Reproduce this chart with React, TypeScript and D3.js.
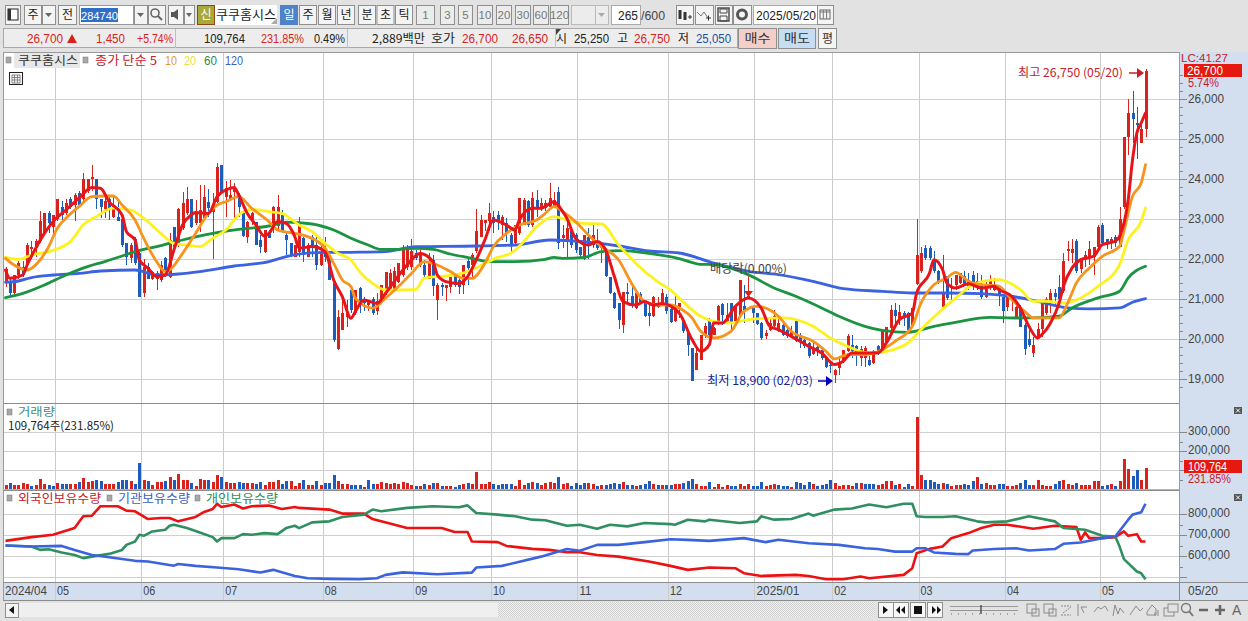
import React from "react";
import * as d3 from "d3";

// ---------- OHLC (open, high, low, close) ----------
const candles2024AprMay = [
[21400,21800,21300,21750],[21450,21500,21100,21150],[21150,21600,21100,21600],[21600,21950,21500,21900],[21800,21950,21550,21600],
[21850,22400,21800,22350],[22250,22450,22000,22300],[22300,22500,22050,22450],[22450,23200,22400,22950],[22650,23150,22600,23150],
[23150,23200,22650,22900],[22800,23100,22550,23100],[23000,23500,22950,23500],[23300,23450,22950,23100],[23150,23500,23100,23400],
[23500,23550,23250,23300],[23350,23650,22950,23600],[23650,23700,23300,23350],[23500,24150,23450,24000],[23700,24000,23650,24000],
[24000,24350,23700,24050],[24000,24000,23250,23500],[23500,23500,23020,23300],[23250,23600,23020,23450],[23500,23550,22980,23250],
[23050,23550,23020,23330],[23050,23500,22950,22950],[23000,23000,22300,22350],[22400,22400,21850,22050],[22020,22400,21900,22350],
[22500,22550,21850,21900],[22150,22200,21050,21050],
];
const candles2024JunJul = [
[21150,22000,21050,21800],[21800,21900,21500,21500],[21500,21700,21475,21685],[21500,21700,21225,21640],[21475,21950,21435,21850],
[22020,22060,21560,21685],[21560,22650,21520,22475],[22800,22810,22270,22310],[22350,23270,22310,23240],[22770,23680,22725,23390],
[23140,23810,23100,23490],[23490,23490,22770,22800],[22900,23480,22850,23140],[22890,23850,22685,23225],[23020,23850,22975,23560],
[23430,23740,23060,23270],[23185,23640,21995,23350],[23430,24390,23390,24290],[24350,24350,23640,23680],[23560,23940,23060,23770],
[23490,23975,23475,23600],[23680,23890,23020,23790],[23600,23640,23060,23290],[23140,23140,22540,22580],[22540,22950,22390,22935],
[22960,23185,22850,23140],[22935,22935,22350,22350],[22475,22600,22140,22300],[22185,22725,22160,22725],[22640,22725,22520,22520],
[22770,23325,22640,23310],[22825,23600,22725,23310],[23100,23225,22640,22685],[22600,22640,22100,22475],[22390,22410,22060,22080],
[22060,22350,22040,22350],[22185,23060,22060,22935],[22520,22560,21935,22100],[22060,22390,22040,22350],[22560,22600,22060,22270],
[22350,22560,21725,21850],[21850,22390,21830,22185],
];
const candles2024AugSep = [
[22225,22560,21935,22060],[22100,22140,21475,21475],[21390,21390,19935,19975],[19745,20725,19725,20560],[20225,20975,20225,20640],
[20560,20975,20300,20640],[21225,21250,20650,20725],[20650,21225,20600,21225],[21275,21310,20650,20950],[21000,21060,20700,20890],
[20850,20975,20700,20975],[21000,21060,20600,20650],[20700,21140,20600,20950],[20950,21350,20900,21350],[21140,21685,21100,21685],
[21200,21750,21200,21650],[21250,21800,21225,21700],[21425,21900,21400,21900],[21600,22350,21550,22225],[21800,22350,21725,22275],
[21800,22500,21725,22200],[22150,22225,21975,22025],[21850,22225,21800,22150],[21850,21975,21500,21600],[21500,22150,21500,21950],
[21975,22100,21075,21325],[20975,21400,20475,21350],[21350,21400,21075,21300],[21275,21350,20950,21350],[21310,21575,21140,21575],
[21575,21640,21310,21350],[21475,21520,21125,21310],[21350,21850,21125,21850],[21950,22025,21350,21775],[21850,22140,21560,22100],
[22200,23240,22140,22690],[22560,23100,22560,22975],[22900,22975,22690,22975],
];
const candles2024OctNov = [
[22950,23390,22690,23160],[23060,23190,22640,22890],[23100,23190,22725,22975],[22850,23100,22475,23060],[22890,23020,22435,22640],
[22600,22640,22140,22350],[22390,22850,22350,22850],[22640,23515,22600,23515],[22850,23515,22850,23475],[23460,23475,22810,22850],
[22850,23680,22810,23515],[23475,23725,23060,23270],[23250,23515,23190,23390],[23270,23475,23190,23390],[23310,23890,23270,23515],
[23325,23680,23290,23475],[23680,23790,22240,22390],[22520,22850,22270,22600],[22475,23060,21990,22770],[22700,22725,22270,22350],
[22600,22640,22140,22225],[22290,22310,21990,22100],[21990,22600,21975,22600],[22560,22770,21990,22375],[22350,22890,22270,22600],
[22435,22740,22225,22270],[22270,22350,21890,22310],[22225,22270,21540,21575],[21540,21560,21125,21140],[21160,21185,20740,20770],
[20890,20910,20240,20475],[20350,21185,20140,21185],[21185,21390,20890,21125],[21075,21310,20770,20825],[20770,21160,20740,21140],
[21125,21185,20890,20935],[20935,20960,20540,20575],[20640,20890,20325,20575],[20575,21075,20560,21060],[20790,21040,20770,20890],
[20875,21240,20825,21140],[21060,21125,20625,20690],
];
const candles2024Dec2025Jan = [
[20740,20770,20390,20435],[20460,21100,20435,20850],[20810,20890,20520,20890],[20450,20480,20150,20200],[20170,20190,19580,19860],
[19776,19776,18950,18950],[19235,19860,19235,19650],[19485,20110,19485,20110],[20085,20400,20025,20335],[20500,20525,20025,20110],
[20110,20300,20100,20275],[20380,20860,20360,20815],[20880,20900,20360,20610],[20440,20900,20400,20610],[20900,20900,20190,20400],
[20440,20860,20400,20815],[20585,21470,20570,21470],[20815,21360,20400,20735],[21025,21610,21000,21085],[20775,20815,20400,20650],
[20650,20650,20360,20385],[20400,20420,19985,20025],[20085,20235,20000,20150],[20235,20525,20190,20400],[20320,20735,20275,20565],
[20190,20565,20165,20400],[20360,20400,20085,20110],[20235,20275,20025,20065],[20085,20315,20065,20190],[20440,20460,19915,19945],
[20110,20150,19775,19915],[19985,20025,19775,19815],[19900,19915,19525,19565],[19635,19940,19610,19775],[19800,19860,19585,19690],
[19735,19775,19485,19525],[19550,19570,19275,19300],[19360,19400,19150,19320],
];
const candles2025FebMar = [
[19110,19250,18900,19235],[19275,19565,19110,19420],[19485,19735,19400,19720],[19690,20135,19670,20065],[19860,20110,19525,19690],
[19835,19860,19335,19570],[19525,19835,19320,19750],[19525,19815,19300,19775],[19470,19570,19320,19360],[19400,19735,19385,19690],
[19815,19860,19610,19650],[19690,20215,19670,20190],[19900,20300,19885,20300],[20275,20860,20150,20735],[20735,20900,20360,20565],
[20485,20860,20360,20665],[20650,20690,20315,20565],[20650,20665,20190,20235],[20315,20770,20300,20770],[21385,23000,21360,22110],
[21690,22300,21650,22150],[22275,22360,21985,22025],[22275,22335,21985,22025],[21985,22190,21650,21690],[21690,21720,21385,21415],
[20790,22110,20775,21150],[21565,21565,20985,21025],[21290,21525,20935,21330],[21360,21610,21235,21610],[21400,21650,21380,21650],
[21565,21690,21320,21335],[21480,21650,21235,21275],[21610,21690,21235,21320],[21440,21650,21235,21275],[21360,21610,21000,21050],
[21050,21440,21025,21250],[21275,21610,21235,21500],[21235,21525,21190,21335],[21335,21360,20820,21110],
];
const candles2025AprMay = [
[21050,21050,20400,20700],[20800,21100,20700,21100],[20950,21100,20700,21100],[20550,20850,20500,20800],[20800,20850,20300,20300],
[20350,20400,19600,19750],[20000,20250,19800,19850],[19650,20050,19550,19850],[20050,20400,20050,20250],[20250,20900,20050,20900],
[20650,21050,20600,21000],[20950,21250,20650,21150],[21150,21250,20800,21050],[21300,21600,20900,21000],[21200,22150,21150,21950],
[22200,22450,21950,22250],[22150,22500,21900,22250],[22450,22500,21650,21700],[21750,22000,21650,22000],[22050,22200,21800,22100],
[22050,22450,21850,22250],[22050,22300,21600,22300],[22300,22850,22250,22800],[22850,22900,22350,22400],[22500,22500,22250,22400],
[22400,22550,22250,22500],[22550,22600,22300,22400],[22300,23300,22300,23000],[23300,25050,23250,25050],[25050,26000,24600,25650],
[25650,26200,24900,25500],[25400,25800,24500,25350],[24900,25350,24900,25250],[25250,26750,25050,26700],
];

// ---------- moving averages: [bar index, price] ----------
const ma5Knots = [[0,21725],[1,21520],[4,21600],[5,21850],[7,22270],[9,22640],[11,22935],[14,23225],[17,23520],[20,23790],[22,23770],[24,23430],[27,23100],[28,22685],[30,22475],[31,21975],[33,21770],[35,21560],[37,21600],[39,22225],[41,22850],[43,23100],[44,23160],[47,23140],[49,23560],[51,23725],[53,23790],[54,23600],[56,23140],[58,22850],[60,22575],[61,22640],[63,22935],[65,22890],[67,22560],[68,22270],[71,22310],[74,22185],[76,21475],[78,21060],[80,20520],[81,20685],[83,20975],[86,20890],[88,21140],[90,21435],[93,21850],[96,22140],[99,21935],[100,21600],[102,21435],[105,21390],[107,21560],[109,21975],[111,22475],[113,22975],[116,22850],[118,22725],[119,22975],[122,23270],[124,23270],[127,23430],[129,23190],[130,23020],[132,22520],[135,22350],[137,22435],[139,22225],[141,21560],[143,20935],[146,20850],[148,20935],[150,20850],[152,20890],[156,20650],[159,19984],[161,19693],[163,19860],[164,20400],[166,20400],[169,20817],[172,21025],[175,20776],[177,20317],[179,20234],[182,20067],[186,19817],[189,19651],[192,19360],[194,19443],[196,19651],[199,19651],[202,19651],[204,19901],[207,20484],[210,20650],[211,21150],[214,21650],[215,21983],[217,21734],[218,21400],[220,21275],[223,21383],[226,21275],[229,21317],[230,21235],[233,21068],[235,20777],[237,20319],[239,20028],[240,20110],[242,20402],[244,20902],[245,21318],[247,21777],[249,21985],[252,22068],[254,22360],[257,22443],[258,22568],[260,23485],[261,24484],[262,25150],[263,25400],[264,25650]];
const ma10Knots = [[0,22017],[2,21850],[5,21725],[8,21975],[10,22310],[12,22770],[14,23020],[17,23310],[20,23560],[23,23575],[25,23575],[27,23350],[30,22975],[32,22520],[35,21935],[37,21685],[38,21725],[41,22140],[44,22640],[47,23140],[49,23350],[51,23430],[54,23560],[57,23270],[61,22935],[63,22725],[67,22640],[70,22560],[74,22270],[76,21890],[78,21475],[80,21310],[81,21020],[85,20770],[88,21020],[91,21310],[94,21640],[97,21935],[100,21850],[103,21685],[106,21518],[108,21518],[111,21890],[113,22310],[116,22640],[119,22850],[123,22975],[125,23140],[127,23310],[129,23190],[132,22935],[135,22600],[138,22310],[142,21975],[145,21390],[148,20935],[151,20850],[154,20850],[156,20776],[159,20526],[161,20192],[164,20026],[168,20192],[171,20692],[174,20817],[179,20567],[182,20192],[187,19943],[190,19693],[192,19501],[195,19609],[199,19609],[203,19734],[206,19943],[210,20317],[212,20900],[215,21359],[218,21525],[220,21667],[223,21442],[226,21359],[230,21320],[233,20985],[236,20694],[238,20527],[241,20527],[244,20527],[246,20902],[248,21402],[251,21777],[254,22068],[258,22318],[259,22693],[261,23568],[263,23900],[264,24359]];
const ma20Knots = [[0,22043],[3,21993],[6,22100],[10,22185],[15,22435],[18,22850],[21,23060],[25,23270],[29,23225],[32,23020],[36,22640],[39,22390],[42,22350],[45,22310],[48,22520],[51,22725],[54,23100],[57,23240],[61,23185],[64,23140],[68,22850],[71,22685],[74,22390],[77,22140],[80,21975],[82,21685],[85,21390],[88,21225],[91,21225],[95,21240],[97,21520],[100,21560],[104,21600],[108,21725],[111,21890],[114,22040],[117,22140],[120,22435],[123,22810],[127,23060],[130,22975],[134,22890],[138,22875],[142,22350],[146,21890],[151,21435],[154,21225],[156,21025],[161,20567],[164,20442],[168,20400],[172,20484],[180,20526],[187,20317],[191,20026],[195,19817],[200,19651],[204,19693],[209,19901],[212,20234],[216,20650],[221,21109],[224,21359],[230,21484],[235,21235],[238,20944],[241,20944],[245,20900],[249,21027],[253,21318],[258,21860],[260,22485],[263,22943],[264,23276]];
const ma60Knots = [[0,21035],[4,21140],[9,21350],[14,21600],[19,21810],[23,21935],[27,22075],[30,22185],[36,22335],[41,22475],[48,22640],[54,22740],[61,22825],[65,22920],[71,22875],[76,22725],[80,22520],[84,22350],[87,22240],[90,22240],[95,22265],[99,22240],[103,22125],[108,22017],[112,21935],[118,21935],[125,21990],[127,22040],[129,22017],[134,22040],[138,22185],[143,22210],[149,22140],[156,22010],[161,21867],[164,21860],[172,21609],[178,21275],[183,21067],[189,20776],[193,20567],[199,20317],[203,20217],[209,20167],[215,20317],[220,20417],[228,20542],[234,20525],[238,20527],[244,20569],[247,20777],[253,21027],[258,21194],[260,21527],[264,21818]];
const ma120Knots = [[0,21418],[3,21450],[6,21535],[11,21600],[17,21640],[22,21700],[30,21725],[35,21600],[40,21625],[45,21685],[53,21825],[61,21935],[65,22060],[72,22160],[80,22168],[88,22185],[95,22310],[109,22325],[118,22350],[126,22475],[134,22435],[142,22325],[149,22200],[156,22150],[164,21900],[172,21692],[179,21609],[187,21442],[194,21259],[203,21192],[210,21150],[218,21150],[226,21134],[234,21050],[238,20967],[246,20777],[251,20752],[258,20777],[261,20919],[264,21010]];

// ---------- volume (thousands of shares) and direction of each bar: r up, b down ----------
const volumeK = [
20,30,20,20,30,25,15,20,55,25, 20,18,30,25,25,25,25,35,60,35, 40,45,40,25,25,25,35,45,50,40,
25,135,45,40,20,35,35,40,65,50, 80,45,45,30,15,55,45,45,35,75, 65,35,30,30,35,30,30,30,25,35,
20,35,35,45,25,40,40,15,30,50, 20,20,40,20,30,30,75,40,25,25, 20,20,20,10,45,25,25,35,30,25,
30,25,35,30,20,15,15,25,20,30, 30,15,15,15,10,20,25,30,25,90, 25,25,35,25,20,25,25,25,15,50,
20,30,35,30,20,30,35,30,65,25, 30,15,30,20,30,30,25,15,20,20, 25,30,25,35,20,20,15,20,25,40,
25,20,20,20,20,25,25,30,40,55, 25,15,15,35,10,25,10,20,15,15, 25,15,25,15,15,35,15,20,25,20,
15,15,10,35,30,20,35,25,15,20, 25,45,30,15,20,20,15,30,30,25, 25,25,20,25,40,40,20,25,10,25,
15,379,75,45,50,35,25,30,25,15, 20,20,25,20,40,65,25,30,20,20, 25,25,15,15,20,30,45,20,20,45,
20,15,15,25,40,50,25,20,30,20, 20,20,40,40,15,20,25,15,40,160, 105,70,100,50,110];
const volumeDirection = [
"rbrrrrbrrr","bbrbbrrbrr","rbbrrrbbbr","bbrbrrrbrb","rrrbrrrbrr","brrrbbrrbb","rrrrbbrrrb",
"rrbrbbbrrr","bbbrbbrrrr","rrrrrbrbrb","rbrrbbrbrr","rrrbbbbbrr","rbrbrrrrbr","rbbbbrrbrb",
"bbbrbbrbbb","rbrbbrrbbb","rrrbrrrrbb","rrrbbbrrrb","bbrbbbbrbb","bbrrrrrbrb","bbrrrrbrbb",
"rrrbbbbrbr","rrbbbrbrrr","bbrrrbbbrr","rrrbbrrrbr","rrrrbbrbrr","rbbrr"].join("");

// ---------- investor holdings: [bar index, shares in thousands] ----------
const foreignKnots = [[0,672],[6,690],[11,701],[16,733],[18,789],[20,792],[22,837],[26,837],[28,816],[30,813],[33,776],[36,781],[38,781],[40,765],[44,786],[46,810],[48,824],[49,848],[50,833],[53,845],[55,826],[57,837],[61,840],[64,824],[67,833],[68,829],[75,821],[78,802],[83,802],[85,776],[93,733],[101,733],[104,714],[107,714],[108,669],[114,666],[116,648],[122,634],[126,629],[130,618],[133,618],[137,605],[142,597],[149,574],[154,553],[158,534],[163,545],[169,542],[171,518],[175,505],[183,510],[186,505],[190,489],[194,489],[198,502],[200,494],[208,510],[210,542],[211,613],[214,634],[217,645],[219,685],[223,709],[226,733],[229,749],[232,749],[238,730],[243,744],[248,738],[249,677],[250,712],[251,685],[254,685],[257,690],[259,717],[260,696],[262,704],[263,669],[264,669]];
const institutionKnots = [[0,650],[6,645],[13,648],[16,629],[20,605],[24,594],[30,577],[33,574],[39,554],[40,562],[44,553],[49,545],[54,537],[59,521],[62,534],[67,505],[70,494],[75,491],[82,489],[86,494],[88,510],[92,522],[100,513],[108,521],[109,545],[115,553],[124,597],[130,633],[133,625],[137,653],[142,653],[148,666],[154,680],[158,677],[163,672],[171,685],[176,666],[179,677],[186,661],[193,653],[199,637],[202,633],[206,621],[210,621],[211,637],[213,637],[215,617],[220,610],[223,609],[224,626],[229,633],[234,637],[237,626],[243,633],[245,658],[249,664],[254,685],[257,693],[260,773],[261,797],[263,808],[264,849]];
const individualKnots = [[0,650],[6,645],[8,629],[10,632],[13,617],[16,605],[18,590],[20,597],[24,610],[27,629],[28,653],[30,669],[31,701],[32,696],[34,717],[37,725],[38,744],[39,749],[42,733],[45,712],[48,690],[49,669],[50,685],[53,685],[55,704],[57,701],[60,709],[63,704],[65,733],[67,744],[68,733],[71,760],[75,765],[78,786],[83,797],[85,821],[87,813],[93,829],[99,837],[105,832],[107,841],[109,805],[114,797],[118,789],[122,773],[125,770],[130,744],[133,749],[137,730],[140,749],[144,741],[148,757],[154,752],[155,749],[158,773],[162,765],[163,773],[170,757],[174,765],[175,789],[178,773],[182,776],[186,802],[187,792],[192,821],[196,826],[200,845],[204,832],[208,849],[210,849],[211,789],[213,786],[217,786],[220,789],[225,765],[227,760],[232,765],[237,789],[243,765],[245,733],[250,725],[254,696],[257,693],[258,645],[259,585],[262,526],[263,518],[264,489]];

// ---------- axis labels ----------
const priceTicks = [26000,25000,24000,23000,22000,21000,20000,19000];
const volumeTicks = [300000,200000,100000];
const holdingTicks = [800000,700000,600000,500000];
const holdingLabels = [800000,700000,600000];
const monthStarts = [12,32,51,74,95,113,133,154,174,192,212,232,254];
const monthLabels = ["05","06","07","08","09","10","11","12","2025/01","02","03","04","05"];
const periodButtons = ["1","3","5","10","20","30","60","120"];

const allCandles = [...candles2024AprMay,...candles2024JunJul,...candles2024AugSep,...candles2024OctNov,...candles2024Dec2025Jan,...candles2025FebMar,...candles2025AprMay];

const FONT = "'Liberation Sans','Noto Sans CJK KR',sans-serif";
const KR = "'Noto Sans CJK KR','Liberation Sans',sans-serif";

const x = d3.scaleLinear().domain([0,264]).range([5.5,1145.5]);
const yP = d3.scaleLinear().domain([19000,26000]).range([379,99]);
const yV = d3.scaleLinear().domain([0,300000]).range([489,432]);
const yH = d3.scaleLinear().domain([500000,800000]).range([577,514]);
const fmt = d3.format(",");
const RED = "#d8231c", BLUE = "#1d5cba";

const maPath = d3.line<number[]>().x(d=>x(d[0])).y(d=>yP(d[1])).curve(d3.curveMonotoneX);
const holdPath = d3.line<number[]>().x(d=>x(d[0])).y(d=>yH(d[1]*1000));

function T({x:tx,y,w,fill="#222",size=12,anchor,kr,children}:any){
  return <text x={tx} y={y} fill={fill} fontSize={size} fontFamily={kr?KR:FONT} textAnchor={anchor}
    textLength={w} lengthAdjust={w?"spacingAndGlyphs":undefined}>{children}</text>;
}
function Btn({x:bx,y=5,w,h=19,fill="#f4f4f4",stroke="#8f8f8f",label,color="#222",lw,kr=true,size=12}:any){
  return <g><rect x={bx+.5} y={y+.5} width={w} height={h} fill={fill} stroke={stroke}/>
    {label&&<text x={bx+w/2+.5} y={y+h/2+4.5} fill={color} textAnchor="middle" fontSize={size} fontFamily={kr?KR:FONT} textLength={lw} lengthAdjust={lw?"spacingAndGlyphs":undefined}>{label}</text>}</g>;
}
const Sq=({x:sx,y}:any)=><rect x={sx} y={y} width={5} height={6} fill="#a8a8a8" stroke="#777" strokeWidth={.5}/>;

export default function App(){
  const months = monthStarts.map(i=>x(i)-2.4);
  return (
  <svg width={1248} height={621} viewBox="0 0 1248 621" style={{position:"absolute",left:0,top:0,display:"block"}}>
    <defs>
      <pattern id="hatch" width={2} height={2} patternUnits="userSpaceOnUse">
        <rect width={2} height={2} fill="#f2f2f2"/><rect width={1} height={1} fill="#cfcfcf"/><rect x={1} y={1} width={1} height={1} fill="#cfcfcf"/>
      </pattern>
    </defs>
    <rect width={1248} height={621} fill="#e2e2e2"/>

    {/* toolbar row 1 */}
    <Btn x={5} w={15}/><rect x={8} y={9} width={10} height={11} fill="#fff" stroke="#222"/><rect x={8} y={9} width={3} height={11} fill="#333"/>
    <Btn x={24} w={17} label="주"/><Btn x={42} w={13}/><path d="M45 13h7l-3.5 4z" fill="#666"/>
    <Btn x={58} w={18} label="전"/>
    <rect x={79.5} y={5.5} width={54} height={19} fill="#fff" stroke="#999"/>
    <rect x={81} y={8} width={37} height={14} fill="#2f6fc8"/>
    <T x={81} y={19.5} w={37} fill="#fff" size={11.5}>284740</T>
    <Btn x={134} w={13}/><path d="M137 13h7l-3.5 4z" fill="#666"/>
    <Btn x={148} w={17}/><circle cx={155} cy={13} r={4} fill="none" stroke="#666" strokeWidth={1.6}/><path d="M158 16l4 4" stroke="#666" strokeWidth={2}/>
    <Btn x={168} w={15}/><path d="M171 12h3l4-3v11l-4-3h-3z" fill="#555"/>
    <Btn x={184} w={10}/><path d="M186 13h6l-3 4z" fill="#666"/>
    <Btn x={197} w={17} fill="#a8a83c" stroke="#8a4a14" label="신" color="#fff"/>
    <rect x={215} y={5} width={62} height={20} fill="#fff"/>
    <T x={216} y={19} w={60} kr size={13}>쿠쿠홈시스</T>
    <path d="M271 24l6-6v6z" fill="#aaa"/>
    <Btn x={280} w={17} fill="#4f82c6" stroke="#4f82c6" label="일" color="#fff"/>
    {["주","월","년"].map((s,i)=><Btn key={s} x={299+i*19} w={17} label={s}/>)}
    {["분","초","틱"].map((s,i)=><Btn key={s} x={358+i*18.5} w={17} label={s}/>)}
    {periodButtons.map((s,i)=>{
      const xs=[416,440,458,477,496,515,533,550], ws=[18,14,14,15,15,15,15,18];
      return <Btn key={s} x={xs[i]} w={ws[i]} label={s} kr={false} color="#777" fill="#ececec" size={11.5}/>;
    })}
    <Btn x={571} w={24} fill="#ececec" stroke="#bbb"/><Btn x={595} w={13} fill="#ececec" stroke="#bbb"/><path d="M598 13h7l-3.5 4z" fill="#aaa"/>
    <rect x={611.5} y={5.5} width={29} height={19} fill="#fff" stroke="#aaa"/>
    <T x={638} y={19.5} anchor="end" size={12}>265</T>
    <T x={641} y={19.5} w={24} fill="#444">/600</T>
    <Btn x={676} w={17}/><path d="M680 10v9M685 12v8" stroke="#333" strokeWidth={3}/><path d="M688 17h4M690 15v4" stroke="#333"/>
    <Btn x={695} w={18}/><path d="M697 12l4 4 3-4 4 6" fill="none" stroke="#777"/><path d="M706 18h5M708.5 15.5v5" stroke="#333"/>
    <Btn x={715} w={17}/><rect x={718} y={8} width={11} height={13} fill="none" stroke="#444" strokeWidth={1.4}/><path d="M720 9h7v4h-7zM720 16h7v5h-7z" fill="none" stroke="#444"/>
    <Btn x={733} w={18}/><circle cx={742} cy={14.5} r={4.5} fill="none" stroke="#555" strokeWidth={3}/>
    <rect x={753.5} y={5.5} width={64} height={19} fill="#fff" stroke="#aaa"/>
    <T x={756} y={19.5} w={60}>2025/05/20</T>
    <Btn x={817} w={16}/><rect x={820} y={10} width={10} height={9} fill="none" stroke="#666"/><path d="M820 12h10M823.3 10v9M826.6 10v9" stroke="#777"/>

    {/* toolbar row 2 */}
    <rect x={3.5} y={28.5} width={734} height={19} fill="#ededed" stroke="#a9a9a9"/>
    <path d="M175.5 29v19M347.5 29v19M555.5 29v19" stroke="#c0c0c0"/>
    <T x={27} y={43} w={36} fill={RED}>26,700</T>
    <path d="M67 43l5-9 5 9z" fill="#d8231c"/>
    <T x={96} y={43} w={29} fill={RED}>1,450</T>
    <T x={137} y={43} w={36} fill={RED}>+5.74%</T>
    <T x={204} y={43} w={41}>109,764</T>
    <T x={261} y={43} w={43} fill={RED}>231.85%</T>
    <T x={314} y={43} w={31}>0.49%</T>
    <T x={372} y={43} w={53} kr>2,889백만</T>
    <T x={431} y={43} w={24} kr>호가</T>
    <T x={462} y={43} w={36} fill={RED}>26,700</T>
    <T x={512} y={43} w={36} fill={RED}>26,650</T>
    <path d="M556 29h5l-5 6z" fill="#444"/>
    <T x={556} y={43} kr>시</T>
    <T x={574} y={43} w={35}>25,250</T>
    <T x={617} y={43} kr>고</T>
    <T x={634} y={43} w={36} fill={RED}>26,750</T>
    <T x={678} y={43} kr>저</T>
    <T x={696} y={43} w={35} fill="#1e4fa8">25,050</T>
    <Btn x={738} y={28} w={38} h={20} fill="#f4cfc9" label="매수" color="#333" lw={26}/>
    <Btn x={778} y={28} w={37} h={20} fill="#c6def3" label="매도" color="#333" lw={26}/>
    <Btn x={818} y={28} w={18} h={20} label="평" color="#333"/>

    {/* panels */}
    <rect x={3.5} y={52.5} width={1176} height={548} fill="#fff" stroke="#9a9a9a"/>
    <rect x={1179} y={52} width={69} height={549} fill="#d3dfee"/>
    <rect x={4} y={582} width={1175} height={18} fill="#d3dfee"/>
    <path d="M1179.5 52v549" stroke="#9a9a9a"/>

    {/* grid */}
    {months.map((m,i)=><path key={i} d={`M${Math.round(m)+.5} 53V600`} stroke="#cbcbcb"/>)}
    {priceTicks.map(t=><path key={t} d={`M4 ${Math.round(yP(t))+.5}H1179`} stroke="#cfcfcf"/>)}
    {volumeTicks.map(t=><path key={t} d={`M4 ${Math.round(yV(t))+.5}H1179`} stroke="#cfcfcf"/>)}
    {holdingTicks.map(t=><path key={t} d={`M4 ${Math.round(yH(t))+.5}H1179`} stroke="#cfcfcf"/>)}
    <path d="M3 403.5H1179M3 490.5H1179M3 582.5H1248M3 600.5H1248" stroke="#8c8c8c"/>
    <path d="M3 489.5H1179" stroke="#b4b4b4"/>

    {/* candles */}
    <g shapeRendering="crispEdges">
    {allCandles.map((c,i)=>{
      const [o,h,l,cl]=c, col=cl>=o?RED:BLUE, cx=Math.round(x(i))+.5;
      const top=Math.round(yP(Math.max(o,cl))), bot=Math.round(yP(Math.min(o,cl)));
      return <g key={i}>
        <path d={`M${cx} ${Math.round(yP(h))}V${Math.round(yP(l))}`} stroke={col}/>
        <rect x={cx-1.5} y={top} width={3} height={Math.max(bot-top,1)} fill={col}/>
      </g>;
    })}
    </g>
    {/* moving averages */}
    <g fill="none" strokeLinejoin="round" strokeLinecap="round">
      <path d={maPath(ma120Knots)!} stroke="#3b62e0" strokeWidth={2.8}/>
      <path d={maPath(ma60Knots)!} stroke="#1a9440" strokeWidth={2.8}/>
      <path d={maPath(ma20Knots)!} stroke="#fdf21e" strokeWidth={2.8}/>
      <path d={maPath(ma10Knots)!} stroke="#f7941d" strokeWidth={2.8}/>
      <path d={maPath(ma5Knots)!} stroke="#e8141a" strokeWidth={3}/>
    </g>

    {/* annotations */}
    <T x={1018} y={77} w={105} fill="#c8202a" kr>최고 26,750 (05/20)</T>
    <path d="M1129 73h9" stroke="#c8202a" strokeWidth={1.5}/><path d="M1137 68l7 5-7 5z" fill="#c8202a"/>
    <T x={707} y={385} w={106} fill="#141e96" kr>최저 18,900 (02/03)</T>
    <path d="M818 381h9" stroke="#0000c0" strokeWidth={1.5}/><path d="M826 376l7 5-7 5z" fill="#0000c0"/>
    <T x={710} y={273} w={77} fill="#444" kr>배당락(0.00%)</T>
    <path d="M744 291h9l-4.5 6z" fill="#d8231c"/>

    {/* volume */}
    <g shapeRendering="crispEdges">
    {volumeK.map((v,i)=>{
      const top=Math.round(yV(v*1000));
      return <rect key={i} x={Math.round(x(i))-1} y={top} width={3} height={489-top} fill={volumeDirection[i]==="r"?RED:BLUE}/>;
    })}
    </g>

    {/* holdings */}
    <g fill="none" strokeLinejoin="round" strokeWidth={2.6}>
      <path d={holdPath(foreignKnots)!} stroke="#ec1113"/>
      <path d={holdPath(individualKnots)!} stroke="#2f8f60"/>
      <path d={holdPath(institutionKnots)!} stroke="#3b63e0"/>
    </g>

    {/* legends */}
    <Sq x={6} y={57}/>
    <rect x={14} y={53} width={66} height={15} fill="#e8e8e8"/>
    <T x={18} y={65} w={60} fill="#333" kr>쿠쿠홈시스</T>
    <Sq x={83} y={57}/>
    <T x={95} y={65} w={62} fill="#c8202a" kr>종가 단순 5</T>
    <T x={165} y={65} w={12} fill="#e69a2a">10</T>
    <T x={184} y={65} w={12} fill="#e8e040">20</T>
    <T x={204} y={65} w={13} fill="#2a8a4a">60</T>
    <T x={225} y={65} w={18} fill="#3a60c0">120</T>
    <rect x={9.5} y={72.5} width={13} height={12} fill="#f4f4f4" stroke="#222"/>
    <path d="M12 75h8v8h-8zM12 77.5h8M12 80h8M14.5 75v8M17.5 75v8" fill="none" stroke="#666" strokeWidth={.7}/>

    <Sq x={7} y={409}/>
    <T x={18} y={416} w={37} fill="#3d8f88" size={11.5} kr>거래량</T>
    <T x={8} y={430} w={106} fill="#222" size={11.5} kr>109,764주(231.85%)</T>
    <Sq x={7} y={495}/>
    <T x={18} y={503} w={83} fill="#c8202a" kr>외국인보유수량</T>
    <Sq x={107} y={495}/>
    <T x={118} y={503} w={72} fill="#3a60c0" kr>기관보유수량</T>
    <Sq x={195} y={495}/>
    <T x={206} y={503} w={72} fill="#2f8f60" kr>개인보유수량</T>

    {/* right axes */}
    {d3.range(18800,26800,200).map(t=><path key={t} d={`M1180 ${Math.round(yP(t))+.5}h${t%1000===0?7:3}`} stroke="#888"/>)}
    {priceTicks.map(t=><T key={t} x={1188} y={yP(t)+3.5} w={36} fill="#444">{fmt(t)}</T>)}
    {d3.range(50000,350000,50000).map(t=><path key={t} d={`M1180 ${Math.round(yV(t))+.5}h${t%100000===0?7:3}`} stroke="#888"/>)}
    {[300000,200000].map(t=><T key={t} x={1188} y={yV(t)+2.5} w={42} fill="#444">{fmt(t)}</T>)}
    {d3.range(500000,850000,50000).map(t=><path key={t} d={`M1180 ${Math.round(yH(t))+.5}h${t%100000===0?7:3}`} stroke="#888"/>)}
    {holdingLabels.map(t=><T key={t} x={1188} y={yH(t)+3} w={42} fill="#444">{fmt(t)}</T>)}

    <T x={1181} y={62} w={47} size={10.5} fill="#c8202a">LC:41.27</T>
    <rect x={1184} y={64} width={58} height={13} fill="#e5190f"/>
    <T x={1187} y={75} w={36} fill="#fff">26,700</T>
    <T x={1188} y={87} w={31} fill="#c8202a">5.74%</T>
    <rect x={1184} y={460} width={58} height={13} fill="#e5190f"/>
    <T x={1188} y={471} w={39} fill="#fff">109,764</T>
    <T x={1188} y={483} w={43} fill="#c8202a">231.85%</T>
    {[407,494].map(y=><g key={y}><rect x={1234} y={y} width={8} height={7} fill="#555"/><path d={`M1236 ${y+1.5}l4 4m0-4l-4 4`} stroke="#fff"/></g>)}

    {/* date axis */}
    <T x={5} y={595} w={42} fill="#444">2024/04</T>
    {monthLabels.map((s,i)=><T key={i} x={months[i]+2} y={595} w={s.length>2?43:12} fill="#444">{s}</T>)}
    <T x={1188} y={595} w={30} fill="#444">05/20</T>
    <path d="M1179.5 582v19" stroke="#8c8c8c"/>

    {/* bottom toolbar */}
    <Btn x={5} y={603} w={13} h={14}/><path d="M14 606v8l-5-4z" fill="#111"/>
    <rect x={19} y={603} width={479} height={14} fill="#efefef"/>
    <rect x={498} y={602} width={377} height={15} fill="url(#hatch)"/>
    {[878,893,910,927].map(b=><Btn key={b} x={b} y={602} w={15} h={15} fill="#f7f7f7"/>)}
    <path d="M883 606l5 4-5 4zM905 606v8l-4-4zM900 606v8l-4-4zM914 606h8v8h-8zM932 606v8l4-4zM937 606v8l4-4z" fill="#111"/>
    <path d="M950 606.5h68M950 610.5h68" stroke="#999"/>
    <path d="M981 605v9" stroke="#555" strokeWidth={1.5}/>
    <path d="M951 614h67" stroke="#666" strokeDasharray="1 6"/>
    <g fill="none" stroke="#8a8a8a">
      <rect x={1027} y={604} width={9} height={9}/><rect x={1032} y={609} width={7} height={7}/>
      <rect x={1044} y={604} width={9} height={9}/><rect x={1049} y={609} width={7} height={7}/>
      <path d="M1061 606h10M1061 615h10M1063 613l8-6" strokeDasharray="2 1"/>
      <path d="M1078 604v12M1081 607h6M1081 607l3 6"/>
      <path d="M1094 612l4-5 3 2 4-3 3 5"/>
      <path d="M1113 616l2-11 3 9 2-6 4 5"/>
      <path d="M1130 615l6-9 4 5 3-3"/>
      <path d="M1147 612l5-7 4 4v6h-9zM1155 612v4M1158 610v6"/>
      <rect x={1164} y={608} width={10} height={8}/><rect x={1168} y={604} width={10} height={8} fill="#e2e2e2"/>
    </g>
    <circle cx={1186} cy={608} r={4.5} fill="none" stroke="#777" strokeWidth={1.4}/><path d="M1189 611l4 5" stroke="#777" strokeWidth={2}/>
    <path d="M1199 610h9" stroke="#666" strokeWidth={2.5}/>
    <path d="M1215 610h10M1220 605v10" stroke="#666" strokeWidth={2.5}/>
    <T x={1232} y={615} size={14} fill="#666">A</T>
  </svg>);
}
